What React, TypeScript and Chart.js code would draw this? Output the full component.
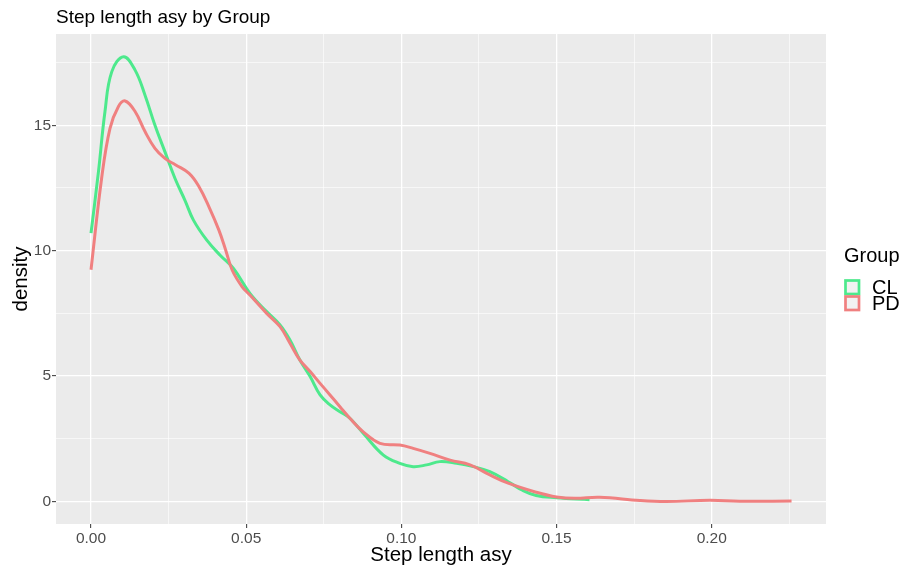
import React, { useEffect, useRef } from "react";
import { Chart, registerables } from "chart.js";
Chart.register(...registerables);

const groups = ["CL", "PD"];
const groupColors = ["#4DE98C", "#F08080"];

const clX = [0, 0.0024, 0.0045, 0.0067, 0.0105, 0.0142, 0.0174, 0.0206, 0.0238, 0.0271, 0.0303, 0.033, 0.0373, 0.0416, 0.0459, 0.0512, 0.0566, 0.0609, 0.0641, 0.0673, 0.0706, 0.0738, 0.077, 0.0802, 0.0834, 0.0877, 0.0942, 0.0995, 0.1038, 0.1081, 0.1124, 0.1178, 0.1232, 0.1285, 0.1344, 0.139, 0.1434, 0.15, 0.1606];
const clY = [10.7, 13.15, 15.55, 17.14, 17.73, 17.2, 16.2, 15.0, 13.95, 12.87, 12.0, 11.22, 10.42, 9.82, 9.29, 8.3, 7.57, 7.04, 6.44, 5.64, 4.98, 4.25, 3.85, 3.58, 3.32, 2.72, 1.85, 1.52, 1.39, 1.46, 1.59, 1.52, 1.39, 1.19, 0.79, 0.45, 0.24, 0.15, 0.07];

const pdX = [0, 0.0034, 0.0061, 0.0088, 0.011, 0.0142, 0.0174, 0.0206, 0.0238, 0.0273, 0.0316, 0.0348, 0.038, 0.0412, 0.0434, 0.0455, 0.0487, 0.0512, 0.0566, 0.0609, 0.0641, 0.0673, 0.0706, 0.0738, 0.077, 0.0802, 0.0834, 0.0877, 0.0931, 0.0995, 0.1038, 0.1092, 0.1157, 0.1221, 0.1285, 0.1344, 0.1434, 0.15, 0.156, 0.1639, 0.1768, 0.1854, 0.1994, 0.209, 0.2257];
const pdY = [9.24, 12.87, 14.87, 15.74, 15.97, 15.55, 14.75, 14.08, 13.68, 13.42, 13.08, 12.55, 11.75, 10.82, 10.02, 9.22, 8.56, 8.23, 7.5, 6.97, 6.31, 5.64, 5.18, 4.71, 4.25, 3.78, 3.32, 2.78, 2.32, 2.25, 2.12, 1.92, 1.65, 1.46, 1.06, 0.73, 0.37, 0.18, 0.13, 0.17, 0.04, 0.0, 0.05, 0.01, 0.02];

const xMajor = [0, 0.05, 0.1, 0.15, 0.2];
const xMinor = [0.025, 0.075, 0.125, 0.175, 0.225];
const yMajor = [0, 5, 10, 15];
const yMinor = [2.5, 7.5, 12.5, 17.5];

const titleText = "Step length asy by Group";
const xTitle = "Step length asy";
const yTitle = "density";
const legendTitle = "Group";

const FONT = "'Liberation Sans', Arial, sans-serif";

function isMajor(v: number, step: number) {
  const r = v / step;
  return Math.abs(r - Math.round(r)) < 1e-6;
}

const decorPlugin = {
  id: "decor",
  beforeDraw(chart: any) {
    const { ctx, chartArea } = chart;
    ctx.save();
    ctx.fillStyle = "#FFFFFF";
    ctx.fillRect(0, 0, chart.width, chart.height);
    ctx.fillStyle = "#EBEBEB";
    ctx.fillRect(chartArea.left, chartArea.top, chartArea.right - chartArea.left, chartArea.bottom - chartArea.top);
    ctx.restore();
  },
  afterDraw(chart: any) {
    const { ctx, chartArea } = chart;
    ctx.save();
    ctx.fillStyle = "#000000";
    ctx.textBaseline = "alphabetic";
    ctx.textAlign = "left";
    ctx.font = `19px ${FONT}`;
    ctx.fillText(titleText, chartArea.left, 23);

    const lx = chartArea.right + 18;
    ctx.font = `20px ${FONT}`;
    ctx.fillText(legendTitle, lx, 262);
    groups.forEach((g, i) => {
      const top = 280 + i * 16;
      ctx.fillStyle = "#F2F2F2";
      ctx.fillRect(lx + 1, top, 14, 14);
      ctx.strokeStyle = groupColors[i];
      ctx.lineWidth = 2.7;
      ctx.strokeRect(lx + 1.5, top + 0.5, 13.5, 13.5);
      ctx.fillStyle = "#000000";
      ctx.font = `20px ${FONT}`;
      ctx.fillText(g, lx + 28, top + 13.5);
    });
    ctx.restore();
  },
};

export default function App() {
  const ref = useRef<HTMLCanvasElement>(null);
  useEffect(() => {
    if (!ref.current) return;
    const chart = new Chart(ref.current, {
      type: "line",
      data: {
        datasets: [
          {
            label: groups[0],
            data: clX.map((x, i) => ({ x, y: clY[i] })),
            borderColor: groupColors[0],
            borderWidth: 3,
            pointRadius: 0,
            tension: 0.4,
            fill: false,
            order: 1,
          },
          {
            label: groups[1],
            data: pdX.map((x, i) => ({ x, y: pdY[i] })),
            borderColor: groupColors[1],
            borderWidth: 3,
            pointRadius: 0,
            tension: 0.4,
            fill: false,
            order: 0,
          },
        ],
      },
      options: {
        responsive: false,
        animation: false,
        layout: { padding: { top: 34, right: 81, left: 0, bottom: 0 } },
        plugins: { legend: { display: false }, title: { display: false }, tooltip: { enabled: false } },
        scales: {
          x: {
            type: "linear",
            min: -0.01128,
            max: 0.2368,
            afterBuildTicks: (scale: any) => {
              scale.ticks = [...xMajor, ...xMinor].sort((a, b) => a - b).map((v) => ({ value: v }));
            },
            afterFit: (scale: any) => {
              scale.height = 47;
            },
            border: { display: false },
            grid: {
              color: "#FFFFFF",
              lineWidth: (c: any) => (c.tick && isMajor(c.tick.value, 0.05) ? 1.3 : 0.6),
              tickColor: (c: any) => (c.tick && isMajor(c.tick.value, 0.05) ? "#333333" : "rgba(0,0,0,0)"),
              tickWidth: 1,
              tickLength: 4,
            },
            ticks: {
              autoSkip: false,
              maxRotation: 0,
              padding: 1,
              color: "#4D4D4D",
              font: { family: FONT, size: 15.5 },
              callback: (v: any) => (isMajor(Number(v), 0.05) ? Number(v).toFixed(2) : ""),
            },
            title: {
              display: true,
              text: xTitle,
              color: "#000000",
              font: { family: FONT, size: 20.5 },
              padding: { top: 0, bottom: 3 },
            },
          },
          y: {
            type: "linear",
            min: -0.897,
            max: 18.64,
            afterBuildTicks: (scale: any) => {
              scale.ticks = [...yMajor, ...yMinor].sort((a, b) => a - b).map((v) => ({ value: v }));
            },
            afterFit: (scale: any) => {
              scale.width = 56;
            },
            border: { display: false },
            grid: {
              color: "#FFFFFF",
              lineWidth: (c: any) => (c.tick && isMajor(c.tick.value, 5) ? 1.3 : 0.6),
              tickColor: (c: any) => (c.tick && isMajor(c.tick.value, 5) ? "#333333" : "rgba(0,0,0,0)"),
              tickWidth: 1,
              tickLength: 4,
            },
            ticks: {
              autoSkip: false,
              padding: 1,
              color: "#4D4D4D",
              font: { family: FONT, size: 15.5 },
              callback: (v: any) => (isMajor(Number(v), 5) ? String(Number(v)) : ""),
            },
            title: {
              display: true,
              text: yTitle,
              color: "#000000",
              font: { family: FONT, size: 20.5 },
              padding: { top: 9, bottom: 0 },
            },
          },
        },
      },
      plugins: [decorPlugin],
    } as any);
    return () => chart.destroy();
  }, []);
  return (
    <div style={{ position: "absolute", left: 0, top: 0, width: 907, height: 571 }}>
      <canvas ref={ref} width={907} height={571} style={{ display: "block" }} />
    </div>
  );
}
